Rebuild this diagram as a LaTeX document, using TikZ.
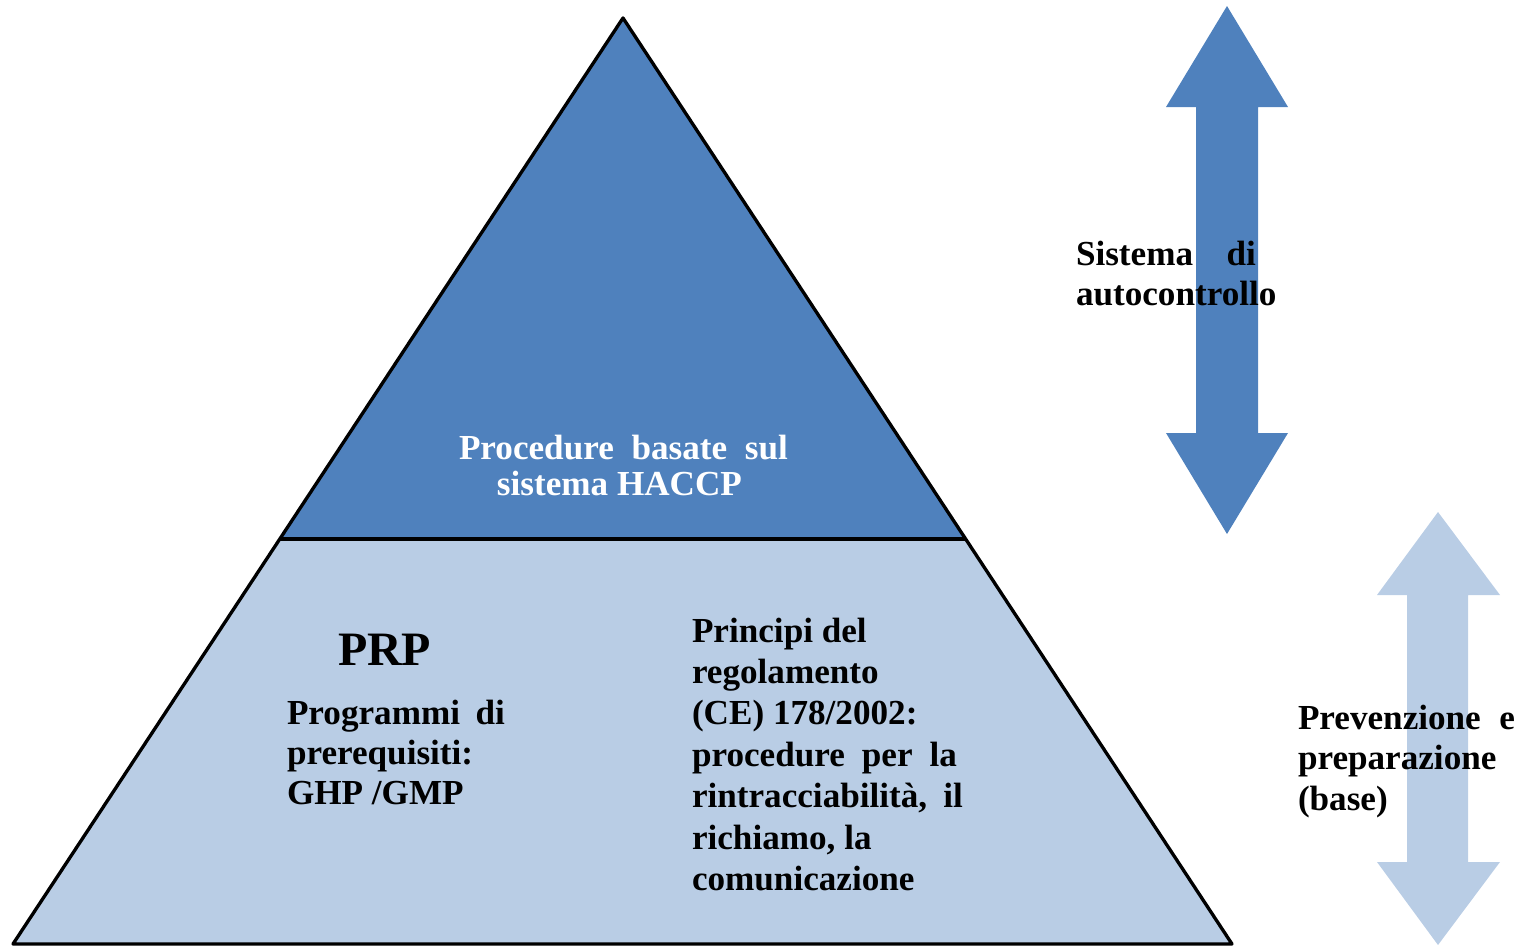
\documentclass[tikz,border=0pt]{standalone}
\usepackage{fontspec}
\setmainfont{Liberation Serif}
\usetikzlibrary{calc}

\definecolor{pyrtop}{HTML}{4F81BD}
\definecolor{pyrbase}{HTML}{B9CDE5}

% bold block text at 20pt with a given line distance
\newcommand\blockfont[1]{\fontsize{20}{#1}\selectfont\bfseries}

\begin{document}
\begin{tikzpicture}[x=0.02cm,y=-0.02cm,
  txt/.style={anchor=base west, inner sep=0pt, outer sep=0pt},
  edge/.style={line width=1.9pt, line join=round}]
\useasboundingbox (0,0) rectangle (1526,947);

% pyramid corners and the level dividing its two parts
\coordinate (apex) at (623,18);
\coordinate (bl) at (13,944);
\coordinate (br) at (1232,944);
\coordinate (ml) at ($(apex)!0.5626!(bl)$);
\coordinate (mr) at ($(apex)!0.5626!(br)$);

\fill[pyrbase] (ml) -- (bl) -- (br) -- (mr) -- cycle;
\fill[pyrtop] (apex) -- (ml) -- (mr) -- cycle;
\draw[edge] (apex) -- (bl) -- (br) -- cycle;
\draw[edge] (ml) -- (mr);

% double arrow of the self-control system
\fill[pyrtop] (1227,6) -- (1288,107) -- (1258,107) -- (1258,433) -- (1288,433)
  -- (1227,534) -- (1166,433) -- (1196,433) -- (1196,107) -- (1166,107) -- cycle;

% double arrow of prevention and preparation
\fill[pyrbase] (1438,512) -- (1500,595) -- (1468,595) -- (1468,862) -- (1500,862)
  -- (1438,945) -- (1377,862) -- (1407,862) -- (1407,595) -- (1377,595) -- cycle;

% texts
\node[txt, text=white] (haccp) at (459,459) {\parbox[t]{8cm}{\blockfont{21pt}%
  \makebox[6.58cm][s]{Procedure basate sul}\\
  \hspace*{0.76cm}sistema HACCP}};

\node[txt] (prp) at (338,665) {\fontsize{27.3}{32}\selectfont\bfseries PRP};

\node[txt] (prog) at (287,724) {\parbox[t]{6cm}{\blockfont{23pt}%
  \makebox[4.36cm][s]{Programmi di}\\
  prerequisiti:\\
  GHP /GMP}};

\node[txt] (reg) at (692,642) {\parbox[t]{7cm}{\blockfont{23.6pt}%
  Principi del\\
  regolamento\\
  (CE) 178/2002:\\
  \makebox[5.3cm][s]{procedure per la}\\
  \makebox[5.42cm][s]{rintracciabilità, il}\\
  richiamo, la\\
  comunicazione}};

\node[txt] (auto) at (1076,265) {\parbox[t]{6cm}{\blockfont{23.3pt}%
  \makebox[3.6cm][s]{Sistema di}\\
  autocontrollo}};

\node[txt] (prev) at (1298,729) {\parbox[t]{6cm}{\blockfont{23.3pt}%
  \makebox[4.34cm][s]{Prevenzione e}\\
  preparazione\\
  (base)}};
\end{tikzpicture}
\end{document}
